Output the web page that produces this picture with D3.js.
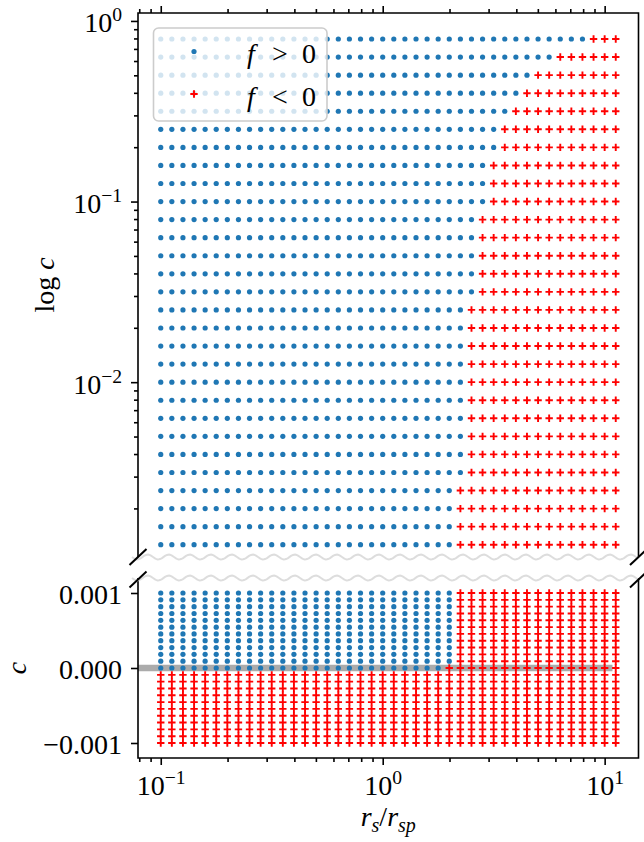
<!DOCTYPE html>
<html><head><meta charset="utf-8">
<script src="https://cdn.jsdelivr.net/npm/d3@7"></script>
<style>
body{margin:0;background:#fff}
svg{display:block}
text{font-family:"Liberation Serif","DejaVu Serif",serif;fill:#000}
</style>
</head><body>
<svg id="chart" width="644" height="842"></svg>
<script>
// ---------------- data ----------------
// r_s / r_sp grid (columns)
const rsValues = [0.1,0.1122,0.1259,0.1413,0.1585,0.1778,0.1995,0.2239,0.2512,0.2818,
  0.3162,0.3548,0.3981,0.4467,0.5012,0.5623,0.6310,0.7079,0.7943,0.8913,
  1.0,1.122,1.259,1.413,1.585,1.778,1.995,2.239,2.512,2.818,
  3.162,3.548,3.981,4.467,5.012,5.623,6.310,7.079,7.943,8.913,
  10.0,11.22];
// c values of the upper (log) panel
const cLogValues = [0.7943,0.6310,0.5012,0.3981,0.3162,0.2512,0.1995,0.1585,0.1259,0.1,
  0.07943,0.06310,0.05012,0.03981,0.03162,0.02512,0.01995,0.01585,0.01259,0.01,
  0.007943,0.006310,0.005012,0.003981,0.003162,0.002512,0.001995,0.001585,0.001259];
// smallest r_s/r_sp with f < 0, for each row of the log panel
const rsCritLog = [8.913,6.310,5.012,4.467,3.981,3.548,3.548,3.162,3.162,3.162,
  2.818,2.818,2.818,2.818,2.818,2.512,2.512,2.512,2.512,2.512,
  2.512,2.512,2.512,2.512,2.512,2.239,2.239,2.239,2.239];
// c values of the lower (linear) panel
const cLinValues = [0.001,0.000909,0.000818,0.000727,0.000636,0.000545,0.000455,0.000364,0.000273,0.000182,0.000091,
  0,
  -0.000091,-0.000182,-0.000273,-0.000364,-0.000455,-0.000545,-0.000636,-0.000727,-0.000818,-0.000909,-0.001];
// smallest r_s/r_sp with f < 0, for each row of the linear panel (0 = every point negative)
const rsCritLin = [2.239,2.239,2.239,2.239,2.239,2.239,2.239,2.239,2.239,2.239,2.239,
  1.995,
  0,0,0,0,0,0,0,0,0,0,0];
// ticks
const xTickExps = [-1, 0, 1];
const yTopTickExps = [0, -1, -2];
const yBotTicks = [-0.001, 0, 0.001];
const yBotTickLabels = ["\u22120.001", "0.000", "0.001"];
const legendLabels = [">", "<"];

// ---------------- layout ----------------
const X0 = 138, X1 = 638.5;
const TOP0 = 13, TOP1 = 557;
const BOT0 = 578, BOT1 = 758;
const BLUE = "#1f77b4", RED = "#ff0000";

const svg = d3.select("#chart");
svg.append("rect").attr("width",644).attr("height",842).attr("fill","#fff");

const x = d3.scaleLog().domain([Math.pow(10,-1.1025), Math.pow(10,1.1525)]).range([X0, X1]);
const yT = d3.scaleLog().domain([Math.pow(10,-2.968), Math.pow(10,0.044)]).range([TOP1, TOP0]);
const yB = d3.scaleLinear().domain([-0.0012, 0.0012]).range([BOT1, BOT0]);

function minorLog(scale, lo, hi) {
  const out = [];
  const [d0, d1] = scale.domain();
  for (let e = lo; e <= hi; e++) for (let m = 2; m <= 9; m++) {
    const v = m * Math.pow(10, e);
    if (v >= d0 && v <= d1) out.push(v);
  }
  return out;
}

function styleAxis(g) {
  g.select(".domain").remove();
  g.selectAll(".tick line").attr("stroke","#000").attr("stroke-width",1.6);
  g.selectAll(".tick text").remove();
}

// ---- gray zero line (under markers)
svg.append("line")
  .attr("x1", X0).attr("x2", X0 + 0.948*(X1-X0))
  .attr("y1", yB(0)).attr("y2", yB(0))
  .attr("stroke","#ababab").attr("stroke-width",6.5);

// ---- markers
const marks = svg.append("g");
function drawRow(cy, crit) {
  rsValues.forEach(rs => {
    const cx = x(rs);
    if (rs >= crit) {
      marks.append("path")
        .attr("d", `M${cx-3.7},${cy}h7.4M${cx},${cy-3.7}v7.4`)
        .attr("stroke", RED).attr("stroke-width", 1.9).attr("fill","none");
    } else {
      marks.append("circle").attr("cx", cx).attr("cy", cy).attr("r", 2.6).attr("fill", BLUE);
    }
  });
}
cLogValues.forEach((c, i) => drawRow(yT(c), rsCritLog[i]));
cLinValues.forEach((c, i) => drawRow(yB(c), rsCritLin[i]));

// ---- axes: top panel
const topX = svg.append("g").attr("transform",`translate(0,${TOP0})`)
  .call(d3.axisTop(x).tickValues(xTickExps.map(e=>Math.pow(10,e))).tickSize(7).tickSizeOuter(0));
styleAxis(topX);
const topXm = svg.append("g").attr("transform",`translate(0,${TOP0})`)
  .call(d3.axisTop(x).tickValues(minorLog(x,-2,1)).tickSize(4).tickSizeOuter(0));
styleAxis(topXm);

const topY = svg.append("g").attr("transform",`translate(${X0},0)`)
  .call(d3.axisLeft(yT).tickValues(yTopTickExps.map(e=>Math.pow(10,e))).tickSize(7).tickSizeOuter(0));
styleAxis(topY);
topY.selectAll(".tick").append("text")
  .attr("x", -16).attr("y", 11).attr("text-anchor","end").attr("font-size",28)
  .each(function(d){
    const t = d3.select(this);
    t.append("tspan").text("10");
    t.append("tspan").attr("font-size",19.6).attr("dy",-11).text(Math.round(Math.log10(d)) === 0 ? "0" : "\u2212" + Math.abs(Math.round(Math.log10(d))));
  });
const topYm = svg.append("g").attr("transform",`translate(${X0},0)`)
  .call(d3.axisLeft(yT).tickValues(minorLog(yT,-3,0)).tickSize(4).tickSizeOuter(0));
styleAxis(topYm);

// ---- axes: bottom panel
const botX = svg.append("g").attr("transform",`translate(0,${BOT1})`)
  .call(d3.axisBottom(x).tickValues(xTickExps.map(e=>Math.pow(10,e))).tickSize(7).tickSizeOuter(0));
styleAxis(botX);
botX.selectAll(".tick").append("text")
  .attr("x", 0).attr("y", 37).attr("text-anchor","middle").attr("font-size",28)
  .each(function(d){
    const t = d3.select(this);
    const e = Math.round(Math.log10(d));
    t.append("tspan").text("10");
    t.append("tspan").attr("font-size",19.6).attr("dy",-11).text(e < 0 ? "\u2212" + Math.abs(e) : String(e));
  });
const botXm = svg.append("g").attr("transform",`translate(0,${BOT1})`)
  .call(d3.axisBottom(x).tickValues(minorLog(x,-2,1)).tickSize(4).tickSizeOuter(0));
styleAxis(botXm);

const botY = svg.append("g").attr("transform",`translate(${X0},0)`)
  .call(d3.axisLeft(yB).tickValues(yBotTicks).tickSize(7).tickSizeOuter(0));
styleAxis(botY);
botY.selectAll(".tick").append("text")
  .attr("x", -16).attr("y", 10).attr("text-anchor","end").attr("font-size",28)
  .text((d,i) => yBotTickLabels[i]);

// ---- spines
const spine = svg.append("g").attr("stroke","#000").attr("stroke-width",1.6).attr("fill","none");
spine.append("path").attr("d",`M${X0},${TOP1}V${TOP0}H${X1}V${TOP1}`);
spine.append("path").attr("d",`M${X0},${BOT0}V${BOT1}H${X1}V${BOT0}`);

// ---- break decoration (wavy lines + diagonals)
function wave(y0) {
  const pts = d3.range(132, 639, 1).map(px => [px, y0 + 2.4*Math.sin(2*Math.PI*(px-132)/21)]);
  svg.append("path").attr("d", d3.line()(pts)).attr("fill","none")
    .attr("stroke","#dddddd").attr("stroke-width",2);
}
wave(TOP1); wave(BOT0);
[[X0,TOP1],[X1,TOP1],[X0,BOT0+1.5],[X1,BOT0+1.5]].forEach(([cx,cy]) => {
  svg.append("line").attr("x1",cx-8.5).attr("y1",cy+8).attr("x2",cx+8.5).attr("y2",cy-8)
    .attr("stroke","#000").attr("stroke-width",2);
});

// ---- legend
const lg = svg.append("g");
lg.append("rect").attr("x",153.5).attr("y",28).attr("width",173.5).attr("height",93)
  .attr("rx",5).attr("fill","#fff").attr("fill-opacity",0.8)
  .attr("stroke","#cccccc").attr("stroke-width",1.6);
lg.append("circle").attr("cx",194).attr("cy",51.5).attr("r",2.6).attr("fill",BLUE);
lg.append("path").attr("d",`M${194-3.7},94h7.4M194,${94-3.7}v7.4`).attr("stroke",RED).attr("stroke-width",1.9);
legendLabels.forEach((op, i) => {
  const by = i === 0 ? 63 : 105.5;
  lg.append("text").attr("x",247).attr("y",by).attr("font-size",28).attr("font-style","italic").text("f");
  lg.append("text").attr("x",272).attr("y",by).attr("font-size",28).text(op);
  lg.append("text").attr("x",302).attr("y",by).attr("font-size",28).text("0");
});

// ---- axis labels
const xl = svg.append("text").attr("x",(X0+X1)/2).attr("y",826).attr("text-anchor","middle").attr("font-size",28);
xl.append("tspan").attr("font-style","italic").text("r");
xl.append("tspan").attr("font-style","italic").attr("font-size",20).attr("dy",6).text("s");
xl.append("tspan").attr("dy",-6).text("/");
xl.append("tspan").attr("font-style","italic").text("r");
xl.append("tspan").attr("font-style","italic").attr("font-size",20).attr("dy",6).text("sp");

const yl = svg.append("text").attr("transform",`translate(54,${(TOP0+TOP1)/2}) rotate(-90)`)
  .attr("text-anchor","middle").attr("font-size",28);
yl.append("tspan").text("log ");
yl.append("tspan").attr("font-style","italic").text("c");

svg.append("text").attr("transform",`translate(26,${(BOT0+BOT1)/2}) rotate(-90)`)
  .attr("text-anchor","middle").attr("font-size",28).attr("font-style","italic").text("c");
</script>
</body></html>
